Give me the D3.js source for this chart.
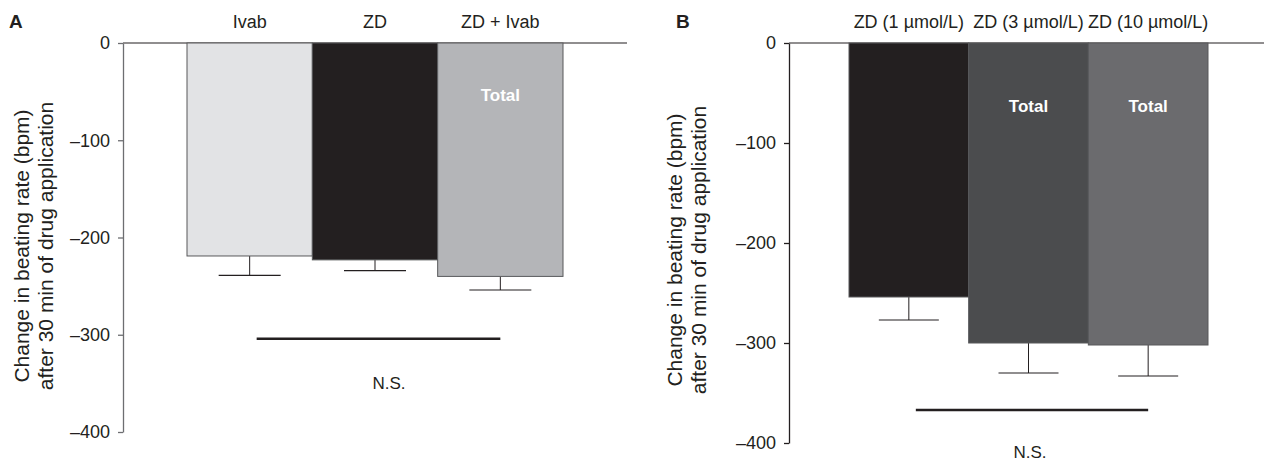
<!DOCTYPE html>
<html>
<head>
<meta charset="utf-8">
<script src="https://cdn.jsdelivr.net/npm/d3@7"></script>
<style>
  html, body { margin: 0; padding: 0; background: #fff; }
  svg { display: block; font-family: "Liberation Sans", Arial, sans-serif; }
</style>
</head>
<body>
<svg id="chart" width="1264" height="462"></svg>
<script>
// ---- Data ----
const categoriesA = ["Ivab", "ZD", "ZD + Ivab"];
const meansA = [-219, -223, -240];
const errorsA = [-239, -234, -254];
const totalA = [false, false, true];

const categoriesB = ["ZD (1 µmol/L)", "ZD (3 µmol/L)", "ZD (10 µmol/L)"];
const meansB = [-254, -300, -302];
const errorsB = [-277, -330, -333];
const totalB = [false, true, true];

const yTicks = [0, -100, -200, -300, -400];
const yLabelLines = ["Change in beating rate (bpm)", "after 30 min of drug application"];
const sigA = { from: 0, to: 2, value: -304, label: "N.S." };
const sigB = { from: 0, to: 2, value: -367, label: "N.S." };

const colorsA = ["#e2e3e5", "#231f20", "#b4b5b8"];
const colorsB = ["#231f20", "#4b4c4e", "#6b6b6e"];

const svg = d3.select("#chart");

function panel(cfg) {
  const g = svg.append("g");
  const x = d3.scaleBand().domain(cfg.cats).range([cfg.barLeft, cfg.barRight]).padding(0);
  const y = d3.scaleLinear().domain([-400, 0]).range([cfg.yBottom, 43]);

  // Zero line
  g.append("line")
    .attr("x1", cfg.axisX).attr("x2", cfg.zeroEnd)
    .attr("y1", y(0)).attr("y2", y(0))
    .attr("stroke", "#231f20").attr("stroke-width", 1.2);

  // Error bars (drawn under bars)
  cfg.cats.forEach((c, i) => {
    const cx = x(c) + x.bandwidth() / 2;
    g.append("line").attr("x1", cx).attr("x2", cx)
      .attr("y1", y(cfg.means[i])).attr("y2", y(cfg.errs[i]))
      .attr("stroke", "#231f20").attr("stroke-width", 1);
    g.append("line").attr("x1", cx - cfg.cap).attr("x2", cx + cfg.cap)
      .attr("y1", y(cfg.errs[i])).attr("y2", y(cfg.errs[i]))
      .attr("stroke", "#231f20").attr("stroke-width", 1.2);
  });

  // Bars
  g.selectAll("rect.bar").data(cfg.cats).enter().append("rect")
    .attr("class", "bar")
    .attr("x", d => x(d))
    .attr("y", y(0))
    .attr("width", x.bandwidth())
    .attr("height", (d, i) => y(cfg.means[i]) - y(0))
    .attr("fill", (d, i) => cfg.colors[i])
    .attr("stroke", "#58595b").attr("stroke-width", 1);

  // Total labels
  cfg.cats.forEach((c, i) => {
    if (cfg.total[i]) {
      g.append("text")
        .attr("x", x(c) + x.bandwidth() / 2)
        .attr("y", cfg.totalY)
        .attr("text-anchor", "middle")
        .attr("font-weight", "bold")
        .attr("font-size", 17)
        .attr("fill", "#ffffff")
        .text("Total");
    }
  });

  // Category labels on top
  cfg.cats.forEach((c, i) => {
    g.append("text")
      .attr("x", x(c) + x.bandwidth() / 2)
      .attr("y", 28)
      .attr("text-anchor", "middle")
      .attr("font-size", 18)
      .attr("fill", "#231f20")
      .text(c);
  });

  // Y axis
  const axis = d3.axisLeft(y).tickValues(yTicks).tickSize(5).tickSizeOuter(0).tickPadding(8)
    .tickFormat(d => d === 0 ? "0" : "\u2013" + Math.abs(d));
  const ag = g.append("g").attr("transform", `translate(${cfg.axisX},0)`).call(axis);
  ag.select(".domain").attr("stroke", cfg.axisColor).attr("stroke-width", 1.3);
  ag.selectAll(".tick line").attr("stroke", cfg.axisColor).attr("stroke-width", 1.3);
  ag.selectAll(".tick text").attr("font-size", 18).attr("fill", "#231f20")
    .attr("font-family", "Liberation Sans, Arial, sans-serif");

  // Y label
  const lbl = g.append("text")
    .attr("transform", `translate(${cfg.labelX},${cfg.labelY}) rotate(-90)`)
    .attr("text-anchor", "middle")
    .attr("font-size", 21)
    .attr("fill", "#231f20");
  yLabelLines.forEach((t, i) => {
    lbl.append("tspan").attr("x", 0).attr("dy", i === 0 ? 0 : 24).text(t);
  });

  // Significance line
  const sx1 = x(cfg.cats[cfg.sig.from]) + x.bandwidth() / 2 + 7;
  const sx2 = x(cfg.cats[cfg.sig.to]) + x.bandwidth() / 2;
  g.append("line").attr("x1", sx1).attr("x2", sx2)
    .attr("y1", y(cfg.sig.value)).attr("y2", y(cfg.sig.value))
    .attr("stroke", "#231f20").attr("stroke-width", 2.5);
  g.append("text")
    .attr("x", cfg.nsX)
    .attr("y", cfg.nsY)
    .attr("text-anchor", "middle")
    .attr("font-size", 17)
    .attr("fill", "#231f20")
    .text(cfg.sig.label);

  // Panel letter
  g.append("text").attr("x", cfg.letterX).attr("y", 28)
    .attr("font-weight", "bold").attr("font-size", 19).attr("fill", "#231f20")
    .text(cfg.letter);
}

panel({
  cats: categoriesA, means: meansA, errs: errorsA, total: totalA, colors: colorsA,
  barLeft: 187, barRight: 563, axisX: 123, zeroEnd: 627, yBottom: 432,
  cap: 31, totalY: 101, axisColor: "#6d6e71", labelX: 29, labelY: 246,
  sig: sigA, nsX: 389, nsY: 389, letter: "A", letterX: 9
});
panel({
  cats: categoriesB, means: meansB, errs: errorsB, total: totalB, colors: colorsB,
  barLeft: 849, barRight: 1208, axisX: 789, zeroEnd: 1264, yBottom: 443,
  cap: 30, totalY: 112, axisColor: "#231f20", labelX: 682, labelY: 250,
  sig: sigB, nsX: 1030, nsY: 458, letter: "B", letterX: 676
});
</script>
</body>
</html>
